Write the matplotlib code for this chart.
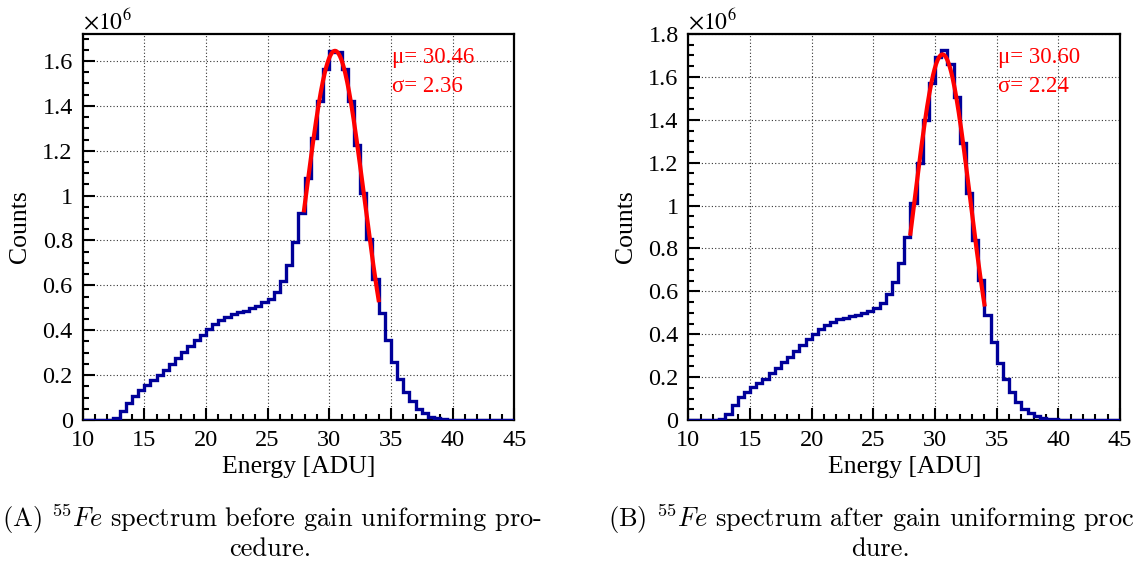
import numpy as np
import matplotlib.pyplot as plt
from matplotlib.ticker import MultipleLocator, AutoMinorLocator, FuncFormatter

plt.rcParams['font.family'] = ['Liberation Serif', 'DejaVu Serif']

# histogram: 0.5 ADU bins starting at 12.5 ADU (counts in units of 1e6)
first_edge = 12.5
bin_width = 0.5
x_range = (10, 45)

counts_before = [0.010, 0.040, 0.074, 0.107, 0.134, 0.156, 0.178, 0.200, 0.223, 0.248,
                 0.275, 0.302, 0.330, 0.357, 0.381, 0.407, 0.428, 0.446, 0.461, 0.473,
                 0.482, 0.488, 0.498, 0.510, 0.528, 0.540, 0.571, 0.620, 0.689, 0.794,
                 0.921, 1.080, 1.255, 1.420, 1.566, 1.643, 1.641, 1.566, 1.420, 1.224,
                 1.013, 0.808, 0.630, 0.477, 0.355, 0.257, 0.183, 0.126, 0.086, 0.050,
                 0.031, 0.015, 0.009, 0.004, 0.002, 0.001]

counts_after = [0.005, 0.028, 0.070, 0.106, 0.132, 0.152, 0.171, 0.191, 0.218, 0.241,
                0.269, 0.295, 0.323, 0.350, 0.376, 0.400, 0.423, 0.443, 0.459, 0.470,
                0.477, 0.484, 0.491, 0.497, 0.510, 0.521, 0.544, 0.586, 0.643, 0.733,
                0.854, 1.012, 1.200, 1.398, 1.572, 1.693, 1.724, 1.658, 1.507, 1.294,
                1.060, 0.839, 0.653, 0.490, 0.365, 0.266, 0.191, 0.129, 0.086, 0.051,
                0.031, 0.017, 0.011, 0.006, 0.003, 0.001]

# gaussian fits shown on the plots
fit_before = dict(amp=1.645, mu=30.46, sigma=2.36, lo=27.95, hi=34.0)
fit_after = dict(amp=1.705, mu=30.60, sigma=2.24, lo=28.0, hi=34.0)

ymax_before = 1.72
ymax_after = 1.80

captions = [r"(A) $^{55}Fe$ spectrum before gain uniforming pro-", "cedure.",
            r"(B) $^{55}Fe$ spectrum after gain uniforming proc", "dure."]

fig = plt.figure(figsize=(11.4, 5.72), dpi=100)
ax1 = fig.add_axes([0.0724, 0.2657, 0.3788, 0.6748])
ax2 = fig.add_axes([0.6038, 0.2657, 0.3788, 0.6748])


def draw(ax, counts, fit, ymax):
    counts = np.array(counts)
    n_left = int(round((first_edge - x_range[0]) / bin_width))
    n_total = int(round((x_range[1] - x_range[0]) / bin_width))
    vals = np.zeros(n_total)
    vals[n_left:n_left + len(counts)] = counts
    edges = x_range[0] + bin_width * np.arange(n_total + 1)
    ax.stairs(vals, edges, baseline=None, color='#000099', lw=2.4, zorder=3)

    xf = np.linspace(fit['lo'], fit['hi'], 200)
    yf = fit['amp'] * np.exp(-0.5 * ((xf - fit['mu']) / fit['sigma']) ** 2)
    ax.plot(xf, yf, color='red', lw=3, zorder=4)

    ax.text(0.716, 0.94, u"\u03bc= %.2f" % fit['mu'], transform=ax.transAxes,
            color='red', fontsize=16.5, va='center', ha='left')
    ax.text(0.716, 0.865, u"\u03c3= %.2f" % fit['sigma'], transform=ax.transAxes,
            color='red', fontsize=16.5, va='center', ha='left')

    ax.set_xlim(*x_range)
    ax.set_ylim(0, ymax)
    ax.xaxis.set_major_locator(MultipleLocator(5))
    ax.xaxis.set_minor_locator(AutoMinorLocator(5))
    ax.yaxis.set_major_locator(MultipleLocator(0.2))
    ax.yaxis.set_minor_locator(AutoMinorLocator(4))
    ax.yaxis.set_major_formatter(FuncFormatter(lambda v, p: "%g" % round(v, 3)))
    ax.tick_params(which='both', direction='in', top=False, right=False,
                   labelsize=17.5, width=1.5, pad=7)
    ax.tick_params(which='major', length=8.5)
    ax.tick_params(which='minor', length=4.3)
    for sp in ax.spines.values():
        sp.set_linewidth(1.6)
    ax.grid(True, which='major', color='#333333', lw=0.8, linestyle=(0, (1, 2)))

    ax.set_xlabel("Energy [ADU]", fontsize=18.5, labelpad=4)
    ax.set_ylabel("Counts", fontsize=18.5, labelpad=8)
    ax.text(0.0, 1.0, r"$\times10^{6}$", transform=ax.transAxes, fontsize=17,
            ha='left', va='bottom', math_fontfamily='stix')


draw(ax1, counts_before, fit_before, ymax_before)
draw(ax2, counts_after, fit_after, ymax_after)

cap_kw = dict(fontsize=19, family='cmr10', math_fontfamily='cm', va='center')
fig.text(0.002, 0.092, captions[0], ha='left', **cap_kw)
fig.text(0.237, 0.04, captions[1], ha='center', **cap_kw)
fig.text(0.533, 0.092, captions[2], ha='left', **cap_kw)
fig.text(0.772, 0.04, captions[3], ha='center', **cap_kw)

fig.savefig("out.png", dpi=100)
